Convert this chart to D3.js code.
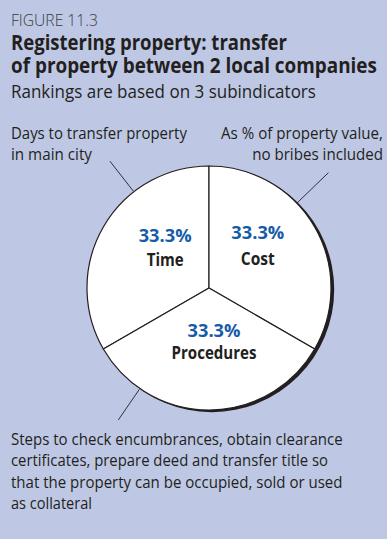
<!DOCTYPE html>
<html>
<head>
<meta charset="utf-8">
<script src="https://cdn.jsdelivr.net/npm/d3@7"></script>
<style>
  html, body { margin: 0; padding: 0; background: #bec8e4; }
  svg { display: block; }
  text { font-family: "Open Sans", "Noto Sans", sans-serif; fill: #231f20; }
</style>
</head>
<body>
<svg id="chart" width="387" height="539"></svg>
<script>
// Subindicators and their weights in the ranking
const categories = ["Time", "Cost", "Procedures"];
const weights = [33.3, 33.3, 33.3];

// Explanatory notes attached to each subindicator
const timeNote = ["Days to transfer property", "in main city"];
const costNote = ["As % of property value,", "no bribes included"];
const proceduresNote = [
  "Steps to check encumbrances, obtain clearance",
  "certificates, prepare deed and transfer title so",
  "that the property can be occupied, sold or used",
  "as collateral"
];

const figureLabel = "FIGURE 11.3";
const titleLines = ["Registering property: transfer", "of property between 2 local companies"];
const subtitle = "Rankings are based on 3 subindicators";

// ---- layout ----
const cx = 209, cy = 288, R = 122;
const ink = "#231f20";
const blue = "#175ca8";

// set widths of each text line (the narrow humanist face is emulated
// by squeezing the fallback font horizontally into these widths)
const titleWidths = [276, 366];
const timeNoteWidths = [176, 81];
const costNoteWidths = [162, 131];
const proceduresNoteWidths = [332, 317, 332, 81];
const sliceNameWidths = { Time: 37, Cost: 34, Procedures: 85 };

const svg = d3.select("#chart");

function addLine(txt, x, y, opts) {
  const t = svg.append("text")
    .attr("x", x).attr("y", y)
    .attr("font-size", opts.size)
    .attr("font-weight", opts.weight || 400)
    .attr("text-anchor", opts.anchor || "start")
    .style("fill", opts.fill || ink)
    .text(txt);
  if (opts.width) {
    const natural = t.node().getComputedTextLength();
    const sx = opts.width / natural;
    t.attr("x", x / sx).attr("transform", `scale(${sx},1)`);
  }
  return t;
}

// ---- header ----
addLine(figureLabel, 11, 26, { size: 17, weight: 300, fill: "#3a3a3c", width: 87 });
titleLines.forEach((l, i) => addLine(l, 11, 50 + i * 23, { size: 21.5, weight: 700, width: titleWidths[i] }));
addLine(subtitle, 11, 98, { size: 17.5, width: 305 });

// ---- pie ----
const pie = d3.pie()
  .sort(null)
  .value(d => d.weight)
  .startAngle(-2 * Math.PI / 3)
  .endAngle(4 * Math.PI / 3);

const data = categories.map((c, i) => ({ name: c, weight: weights[i] }));
const arcs = pie(data);
const arc = d3.arc().innerRadius(0).outerRadius(R);

const g = svg.append("g").attr("transform", `translate(${cx},${cy})`);

// drop shadow along the lower right rim
g.append("circle")
  .attr("cx", 2.6).attr("cy", 1.6).attr("r", R + 0.6)
  .attr("fill", ink);

g.selectAll("path.slice")
  .data(arcs)
  .join("path")
  .attr("class", "slice")
  .attr("d", arc)
  .attr("fill", "#ffffff")
  .attr("stroke", ink)
  .attr("stroke-width", 1.2)
  .attr("stroke-linejoin", "round");

// value and name labels, positioned from each slice's centroid
const labelNudge = { Time: [9, -4], Cost: [-4, -5], Procedures: [5, -1] };
const labelGap = { Time: [-11, 13], Cost: [-13, 13], Procedures: [-11, 11] };

arcs.forEach(a => {
  const [x0, y0] = arc.centroid(a);
  const [nx, ny] = labelNudge[a.data.name];
  const [gp, gn] = labelGap[a.data.name];
  const x = cx + x0 + nx, y = cy + y0 + ny;
  addLine(a.data.weight.toFixed(1) + "%", x, y + gp, { size: 17, weight: 700, anchor: "middle", fill: blue, width: 53 });
  addLine(a.data.name, x, y + gn, { size: 17, weight: 700, anchor: "middle", width: sliceNameWidths[a.data.name] });
});

// leader lines from the rim to each note
const leaderAngle = { Time: -38, Cost: 46, Procedures: 214.5 };
const leaderLen = { Time: 161, Cost: 166, Procedures: 160 };
arcs.forEach(a => {
  const ang = leaderAngle[a.data.name] * Math.PI / 180;
  const p0 = d3.pointRadial(ang, R + 1);
  const p1 = d3.pointRadial(ang, leaderLen[a.data.name]);
  g.append("line")
    .attr("x1", p0[0]).attr("y1", p0[1])
    .attr("x2", p1[0]).attr("y2", p1[1])
    .attr("stroke", ink)
    .attr("stroke-width", 0.9);
});

// ---- notes ----
timeNote.forEach((l, i) => addLine(l, 11, 139 + i * 21, { size: 17, width: timeNoteWidths[i] }));
costNote.forEach((l, i) => addLine(l, 383, 139 + i * 21, { size: 17, anchor: "end", width: costNoteWidths[i] }));
proceduresNote.forEach((l, i) => addLine(l, 11, 445 + i * 21.3, { size: 17, width: proceduresNoteWidths[i] }));
</script>
</body>
</html>
